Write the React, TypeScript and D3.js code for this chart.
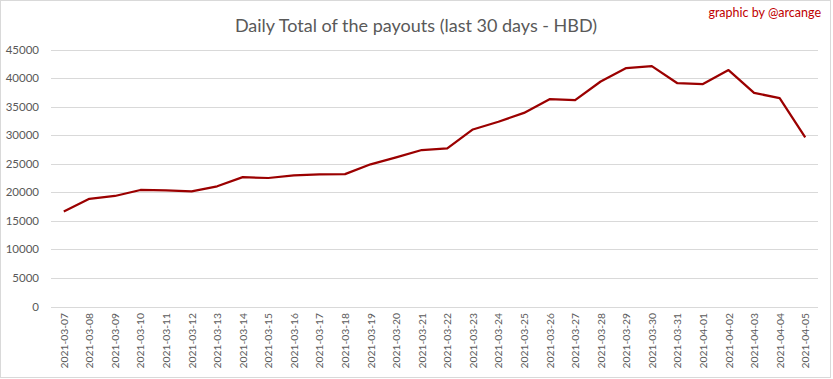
import React from "react";
import * as d3 from "d3";

const dates = [
  "2021-03-07","2021-03-08","2021-03-09","2021-03-10","2021-03-11","2021-03-12",
  "2021-03-13","2021-03-14","2021-03-15","2021-03-16","2021-03-17","2021-03-18",
  "2021-03-19","2021-03-20","2021-03-21","2021-03-22","2021-03-23","2021-03-24",
  "2021-03-25","2021-03-26","2021-03-27","2021-03-28","2021-03-29","2021-03-30",
  "2021-03-31","2021-04-01","2021-04-02","2021-04-03","2021-04-04","2021-04-05",
];
const payouts = [
  16650, 18850, 19350, 20400, 20350, 20150,
  21050, 22650, 22500, 22950, 23150, 23180,
  24900, 26100, 27400, 27700, 31000, 32350,
  33900, 36300, 36150, 39400, 41750, 42100,
  39100, 38950, 41400, 37400, 36500, 29600,
];
const yTicks = [0, 5000, 10000, 15000, 20000, 25000, 30000, 35000, 40000, 45000];

const W = 833, H = 379;
const FONT = "Lato, 'Open Sans', sans-serif";

export default function App() {
  const x = d3.scaleBand<string>().domain(dates).range([51, 818]);
  const y = d3.scaleLinear().domain([0, 45000]).range([306.5, 49.5]);
  const line = d3.line<number>()
    .x((_, i) => (x(dates[i]) as number) + x.bandwidth() / 2)
    .y((d) => y(d));
  return (
    <svg width={W} height={H} style={{ position: "absolute", left: 0, top: 0, background: "#fff" }}>
      <rect x={0.5} y={0.5} width={830} height={377} fill="#fff" stroke="#d9d9d9" />
      <text x={416} y={31.5} textAnchor="middle" fontFamily={FONT} fontSize={18} fill="#595959">
        Daily Total of the payouts (last 30 days - HBD)
      </text>
      <text x={821} y={17} textAnchor="end" fontFamily={FONT} fontSize={12.5} fill="#c00000">
        graphic by @arcange
      </text>
      {yTicks.map((t) => (
        <g key={t}>
          <line x1={51} x2={818} y1={Math.round(y(t)) + 0.5} y2={Math.round(y(t)) + 0.5} stroke="#d9d9d9" strokeWidth={1} />
          <text x={39} y={y(t) + 4} textAnchor="end" fontFamily={FONT} fontSize={11.5} fill="#595959">
            {t}
          </text>
        </g>
      ))}
      {dates.map((d) => {
        const cx = (x(d) as number) + x.bandwidth() / 2;
        return (
          <text
            key={d}
            transform={`translate(${cx + 4},313) rotate(-90)`}
            textAnchor="end"
            fontFamily={FONT}
            fontSize={10.3}
            fill="#595959"
          >
            {d}
          </text>
        );
      })}
      <path d={line(payouts) || ""} fill="none" stroke="#9b0000" strokeWidth={2.25} strokeLinejoin="round" />
    </svg>
  );
}
